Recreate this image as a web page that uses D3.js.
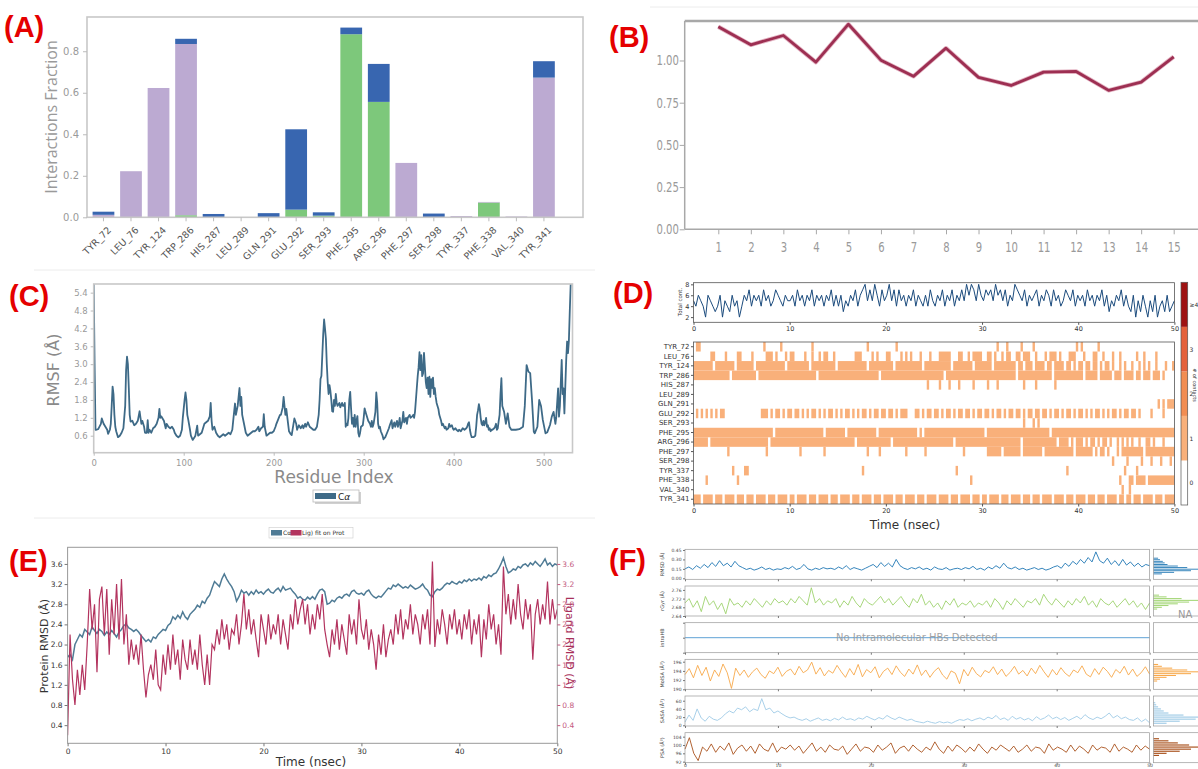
<!DOCTYPE html>
<html>
<head>
<meta charset="utf-8">
<script src="https://d3js.org/d3.v7.min.js"></script>
<style>
body { margin: 0; background: #fff; }
svg { display: block; font-family: "DejaVu Sans", sans-serif; }
.plab { font-family: "Liberation Sans", Arial, sans-serif; font-weight: bold; fill: #e50000; font-size: 29px; }
</style>
</head>
<body>
<svg id="fig" width="1198" height="769"></svg>
<script>
// ---------------- data ----------------
var residues = ["TYR_72","LEU_76","TYR_124","TRP_286","HIS_287","LEU_289","GLN_291","GLU_292","SER_293",
                "PHE_295","ARG_296","PHE_297","SER_298","TYR_337","PHE_338","VAL_340","TYR_341"];
// (A) interaction fractions
var hbond       = [0, 0, 0, 0.010, 0, 0, 0, 0.037, 0.008, 0.882, 0.556, 0, 0, 0, 0.071, 0, 0];
var hydrophobic = [0.012, 0.222, 0.623, 0.825, 0, 0, 0, 0, 0, 0, 0, 0.262, 0, 0.006, 0.003, 0.004, 0.673];
var waterBridge = [0.015, 0, 0, 0.025, 0.016, 0, 0.020, 0.387, 0.016, 0.032, 0.183, 0, 0.018, 0, 0, 0, 0.079];
var fracTicks = [0, 0.2, 0.4, 0.6, 0.8];

// (B)
var bFrames = [1,2,3,4,5,6,7,8,9,10,11,12,13,14,15];
var bValues = [1.20,1.093,1.148,0.99,1.215,1.002,0.906,1.073,0.90,0.852,0.931,0.935,0.823,0.872,1.022];
var bTicks = [0, 0.25, 0.5, 0.75, 1.0];

// (C) RMSF  [residue, value]
var rmsfPoints = [[0,5.7],[1,3.0],[2,0.8],[3,0.8],[5,0.82],[8,1.0],[9,1.18],[11,1.0],[13,0.9],[15,0.8],[16,0.66],[18,0.8],[19,1.0],[20,1.6],[21,2.25],[22,2.0],[23,1.3],[24,0.9],[25,0.75],[27,0.55],[29,0.6],[31,0.7],[33,0.85],[35,1.6],[36,2.8],[37,3.25],[38,3.0],[39,2.2],[40,1.3],[41,1.07],[43,1.1],[45,0.95],[47,1.0],[49,1.1],[51,1.42],[52,1.2],[53,1.0],[54,1.1],[56,0.9],[57,0.7],[59,0.7],[60,1.12],[61,0.7],[62,0.8],[64,0.7],[66,0.85],[68,0.9],[70,1.0],[72,1.2],[73,1.5],[74,1.2],[75,1.25],[77,1.15],[78,1.1],[80,0.85],[81,1.0],[83,0.9],[85,0.85],[87,0.9],[89,0.8],[90,0.7],[92,0.6],[94,0.55],[96,0.6],[98,0.8],[99,1.2],[101,1.8],[102,2.05],[103,1.8],[104,1.3],[105,1.15],[107,0.8],[108,0.6],[110,0.46],[112,0.55],[113,0.6],[115,0.94],[116,0.6],[118,0.65],[120,0.7],[122,0.9],[123,1.0],[125,1.05],[127,1.1],[129,1.25],[130,1.7],[131,1.1],[132,0.8],[134,0.9],[136,0.7],[138,0.6],[140,0.55],[142,0.6],[144,0.65],[146,0.6],[148,0.65],[150,0.7],[152,0.65],[154,0.8],[155,1.1],[157,1.68],[158,1.3],[160,1.6],[161,1.9],[162,2.2],[163,1.6],[164,1.9],[165,1.3],[167,1.0],[169,0.7],[171,0.6],[173,0.65],[175,0.7],[177,0.75],[179,0.75],[181,0.8],[183,0.9],[184,0.75],[186,0.85],[188,0.9],[189,1.32],[190,0.9],[192,0.6],[194,0.65],[196,0.7],[198,0.7],[200,0.75],[202,0.9],[203,1.0],[205,1.15],[207,1.3],[208,1.3],[210,1.55],[211,1.9],[212,1.6],[213,1.3],[214,1.5],[216,1.0],[217,0.75],[219,0.65],[220,0.62],[222,1.0],[223,1.18],[225,1.0],[226,0.8],[228,0.95],[230,0.85],[232,0.95],[233,0.85],[235,1.0],[236,0.9],[238,1.05],[240,0.9],[242,0.85],[244,0.8],[246,0.8],[248,0.9],[249,1.1],[250,1.3],[251,1.8],[252,2.5],[253,2.6],[254,3.3],[255,4.0],[256,4.5],[257,4.2],[258,3.85],[259,3.0],[260,2.4],[261,2.0],[262,2.3],[263,2.1],[264,1.8],[265,1.42],[266,1.4],[267,1.8],[268,1.6],[269,2.0],[270,1.7],[271,1.6],[273,1.7],[274,1.55],[276,1.7],[277,1.6],[278,1.6],[279,1.7],[280,0.9],[281,1.0],[282,0.95],[283,1.2],[284,1.8],[285,2.07],[286,1.5],[287,1.0],[288,1.2],[289,0.9],[290,1.3],[291,0.9],[292,1.1],[293,1.26],[294,0.7],[295,0.57],[296,0.7],[297,0.9],[299,0.95],[300,1.2],[301,1.52],[302,1.4],[303,1.3],[305,1.1],[307,1.0],[308,0.9],[309,1.1],[310,0.9],[311,1.0],[312,1.2],[313,1.4],[314,2.05],[315,1.7],[316,1.0],[317,0.85],[318,0.9],[319,0.75],[321,0.6],[322,0.48],[324,0.55],[326,0.7],[328,0.85],[329,0.95],[331,1.12],[332,0.85],[334,1.05],[335,0.9],[337,1.1],[338,0.9],[339,1.0],[340,1.2],[341,0.85],[343,1.1],[344,1.4],[345,1.05],[347,1.2],[348,1.0],[349,1.2],[351,1.3],[352,1.2],[354,1.25],[355,1.3],[356,1.2],[357,1.4],[358,1.8],[359,2.2],[360,2.6],[361,2.9],[362,3.4],[363,2.8],[364,3.3],[365,2.6],[366,2.7],[367,3.38],[368,2.9],[369,2.4],[370,2.2],[371,2.55],[372,2.0],[373,2.58],[374,1.9],[375,2.5],[376,2.2],[377,2.55],[378,2.0],[379,2.2],[380,1.9],[381,1.7],[382,1.6],[383,1.5],[384,1.3],[386,1.1],[387,0.95],[388,1.0],[390,0.85],[391,0.9],[392,0.8],[394,0.85],[395,1.0],[396,0.9],[398,0.95],[399,0.85],[400,0.8],[402,0.85],[403,0.8],[405,0.75],[406,0.8],[408,0.75],[410,0.85],[412,0.8],[414,0.85],[415,0.9],[416,1.0],[417,1.05],[418,0.8],[419,0.65],[420,0.55],[422,0.55],[424,0.6],[425,0.9],[426,1.3],[427,1.45],[428,1.66],[429,1.5],[430,1.2],[431,1.0],[432,0.95],[433,1.1],[434,0.95],[435,1.05],[436,1.2],[437,0.9],[438,0.95],[439,0.8],[440,0.85],[441,0.75],[442,0.8],[443,0.8],[445,0.85],[446,0.9],[447,1.0],[448,0.8],[449,0.85],[450,1.1],[451,1.3],[452,2.0],[453,2.53],[454,1.6],[456,1.4],[458,1.0],[460,1.35],[462,0.9],[464,0.8],[469,0.8],[473,0.82],[477,0.9],[479,1.6],[481,2.97],[483,2.75],[485,2.7],[487,1.8],[489,0.73],[490,0.68],[493,0.9],[495,1.8],[497,1.6],[499,1.13],[502,0.68],[504,0.72],[507,0.96],[509,1.24],[511,1.4],[513,1.0],[514,1.24],[516,2.19],[517,1.24],[518,1.6],[520,3.14],[521,2.0],[522,2.19],[523,1.35],[525,3.14],[526,3.76],[527,3.37],[528,3.8],[529,4.8],[530,5.7]];
var rmsfTicks = [0.6,1.2,1.8,2.4,3.0,3.6,4.2,4.8,5.4];
var residueTicks = [0,100,200,300,400,500];

// (D) total contacts per frame (0.25 ns) and contact map (one string per residue, 0.25 ns bins)
var totalContacts = ("54654265434625436452" + "46574656475645765465" + "56475646574656465746" + "46354657467857586475" +
                     "68574756465746546475" + "46574657465758687586" + "57675867574658765746" + "56746576475645765746" +
                     "56475646574635465746" + "43625364253624536345").split("").map(Number);
var contactMap = [
  ["011","00000000010000001","0000000001","0000000000001","00001","","00000010001000001","01000000000000000001","010000001",""],
  ["00000001100001000011","00001000001110100010","11000010010010110010","00000001110000101000","11000010101000100010","00111110001100101111","00110100101100110111","00100010111010001110","00100011001000100100","00001001000010000000"],
  ["11111111011111111011","11111011111111111101","11111111011111111110","11111111111101111111","11101111111111101111","11111110111111110111","11110111111111011011","10111101101111011010","11011011010110100101","00100101010010001001"],
  ["11111111111111101111","11111101111111111111","11111111111011111111","11111111111111111011","11111111111111111111","11110111111111111111","11111111111111011111","11111111101111111111","11011111011111011101","11101101110111010000"],
  ["","","","","000000000000000001","00100010001000001","001000100000000001","00100000001","",""],
  ["","","","","","","","","",""],
  ["","","","","","","","","","00000000000001010111"],
  ["0101010101011","00000000111010110101","10110101011010101101","01011010101101011011","01101011100011010110","11010110101101101011","01101011010110110101","10110110101101011010","11010101101010110101","10110100001000010000"],
  ["","","","","","","000000000000000001","0101","",""],
  ["11111111111111111111","11111111111110111111","11111111111111011111","11101111111111110111","11111111111110101111","11111111111111111111","10111111111111111111","11111111011111111111","11111111111111111111","11111111111111111111"],
  ["11111101111111111111","11111111111011111111","11111111111111111111","11111110111111111111","11011111111111111111","11111111011111111111","11111111111111110111","11111111111011110101","11010110101101001010","10100100110100010000"],
  ["000000000000001","0000000000100","000010000000001","0000000000001000010","000000001000000010","0000000000001","00111111011111110111","11111011111111111101","11111101011010001011","11111110111111111111"],
  ["","","","","","","","","000000000000001","10000010001000100010"],
  ["00000000000000001","011","","00000000001","","0000000001","","0000000000000001","00000000000000000001","00001"],
  ["0000010000000000001","","","","","0000000000000001","","","000000000000000001","01101111011111111111"],
  ["","","","","","","","","0000000000000000001","01"],
  ["11101111011101111011","10111011110111011110","11011110111011110111","01111011101111011101","11101110111101110111","10111101110111101110","11011110111011110111","01110111101111011101","11101110111011110110","11011101111011101111"]
];
var contactLevels = ["0","1","2","3","\u22654"];
var contactColors = ["#ffffff","#f9b07a","#f28d52","#e4613b","#9e1212"];
var timeTicks = [0,10,20,30,40,50];

// (E) RMSD, one value every 0.25 ns
var protRmsd = [1.75,1.8,1.7,2.0,2.1,2.2,2.15,2.3,2.25,2.2,2.35,2.28,2.22,2.3,2.26,2.18,2.25,2.2,2.28,2.22,
 2.15,2.25,2.3,2.38,2.4,2.33,2.3,2.26,2.3,2.25,2.18,2.12,2.06,2.1,2.05,2.15,2.12,2.2,2.25,2.3,
 2.28,2.38,2.42,2.55,2.5,2.58,2.52,2.65,2.55,2.5,2.6,2.65,2.7,2.78,2.74,2.86,2.82,2.92,2.98,3.12,
 3.25,3.2,3.15,3.3,3.4,3.3,3.22,3.15,3.05,2.86,2.95,3.08,3.02,3.05,2.98,3.05,3.0,3.08,3.02,3.05,
 3.0,3.06,3.1,3.04,3.02,3.08,3.12,3.05,3.15,3.08,3.1,3.12,3.05,3.0,2.92,2.95,2.9,2.88,2.94,2.9,
 2.95,2.9,3.0,3.08,3.1,3.05,2.8,2.82,2.88,2.85,2.92,2.95,2.92,2.98,3.0,2.96,3.05,3.08,3.02,3.0,
 3.02,2.98,3.05,3.08,3.0,2.95,2.92,2.96,2.94,3.0,3.06,3.12,3.1,3.18,3.15,3.2,3.16,3.12,3.15,3.12,
 3.18,3.14,3.1,3.12,3.15,3.2,3.12,3.08,2.98,2.95,3.05,3.1,3.08,3.12,3.18,3.22,3.2,3.25,3.22,3.2,
 3.25,3.22,3.28,3.25,3.3,3.26,3.3,3.28,3.32,3.28,3.35,3.32,3.38,3.35,3.4,3.42,3.5,3.6,3.72,3.55,
 3.42,3.45,3.5,3.48,3.55,3.52,3.58,3.6,3.55,3.62,3.58,3.65,3.6,3.55,3.62,3.7,3.58,3.62,3.55,3.6,3.58];
var ligRmsd = [0.2,2.2,1.3,0.8,1.5,1.0,1.6,1.1,2.0,3.1,2.3,2.8,1.45,2.9,3.15,2.2,3.1,1.8,2.9,2.2,
 3.2,2.1,3.3,2.0,2.6,1.6,2.1,1.7,2.0,1.6,2.2,1.5,0.95,1.4,1.6,1.3,1.9,1.2,1.1,1.8,
 1.4,2.0,1.5,2.2,1.6,1.9,1.3,2.1,1.7,1.5,2.1,1.6,1.9,1.5,2.2,1.6,1.2,1.8,1.2,2.0,
 1.9,2.3,2.0,2.5,2.1,2.4,1.9,2.3,2.2,2.6,2.0,2.4,3.0,2.3,2.7,2.2,2.5,2.1,1.75,2.6,
 2.3,2.0,2.6,2.1,2.4,2.2,2.6,2.0,2.5,2.2,1.9,2.6,2.3,2.9,2.4,2.7,2.9,2.4,2.8,2.2,
 2.6,2.3,2.8,2.5,3.0,2.3,2.0,1.75,2.3,2.0,2.5,1.9,2.4,2.1,1.8,2.6,2.2,2.5,2.0,2.9,
 2.3,2.1,2.5,1.9,2.3,2.0,1.5,2.2,1.8,2.4,1.75,2.1,2.3,2.0,2.6,2.2,2.7,2.1,2.5,2.3,
 2.8,2.2,2.6,2.4,2.0,2.6,2.3,2.7,2.0,3.65,1.95,2.5,2.2,2.7,2.4,2.0,2.6,2.3,2.7,2.2,
 2.5,2.1,2.6,2.3,2.7,2.0,2.5,2.2,2.6,1.75,2.5,2.1,2.8,2.3,2.6,2.0,2.4,1.8,3.55,2.6,
 3.0,2.4,2.9,2.5,3.2,2.6,2.3,2.9,2.5,2.8,1.7,2.6,2.9,2.4,2.8,2.5,3.25,2.4,2.9,2.5,2.7];
var rmsdTicks = [0.4,0.8,1.2,1.6,2.0,2.4,2.8,3.2,3.6];

// (F) ligand properties
var fRmsd = [.15,.18,.14,.2,.16,.22,.17,.25,.19,.28,.2,.24,.18,.27,.2,.17,.14,.16,.13,.15,.18,.14,.16,.13,.15,
 .14,.17,.15,.19,.14,.16,.22,.15,.13,.16,.14,.17,.15,.16,.14,.18,.15,.2,.14,.17,.15,.13,.16,.19,
 .22,.17,.25,.19,.24,.18,.3,.2,.16,.14,.17,.15,.18,.14,.16,.13,.18,.15,.14,.17,.13,.15,.16,.14,
 .17,.15,.19,.14,.16,.13,.18,.15,.2,.16,.24,.17,.15,.18,.14,.16,.13,.15,.17,.14,.16,.13,.15,.18,
 .2,.16,.24,.19,.27,.22,.3,.24,.33,.26,.42,.28,.24,.32,.22,.28,.2,.3,.21,.26,.19,.24,.18,.22,.2];
var fGyr = [2.70,2.72,2.68,2.71,2.66,2.73,2.69,2.71,2.67,2.7,2.65,2.72,2.69,2.7,2.68,2.71,2.69,2.72,2.7,2.68,2.71,2.69,2.72,2.7,2.71,
 2.69,2.72,2.7,2.73,2.71,2.69,2.77,2.7,2.72,2.69,2.71,2.7,2.72,2.68,2.71,2.69,2.73,2.7,2.68,2.72,2.7,2.69,2.71,2.73,
 2.7,2.72,2.69,2.71,2.73,2.7,2.68,2.72,2.7,2.74,2.69,2.71,2.68,2.7,2.67,2.71,2.69,2.72,2.68,2.7,2.69,2.71,2.68,2.7,
 2.69,2.71,2.68,2.72,2.7,2.67,2.71,2.69,2.72,2.7,2.68,2.71,2.7,2.72,2.69,2.74,2.71,2.69,2.72,2.7,2.68,2.71,2.69,2.72,
 2.7,2.73,2.69,2.71,2.68,2.72,2.7,2.69,2.71,2.68,2.7,2.72,2.69,2.71,2.68,2.7,2.67,2.7];
var fMolsa = [193.2,194.5,192.5,195.2,193,194.8,191.8,194.2,192.8,195.5,193.6,190.2,194.6,193,194.2,192.6,193.8,194.6,193.2,192.4,194,193.4,194.8,192.8,193.9,
 194.4,193.1,195,193.6,194.2,195.9,193.3,194.7,192.9,194.1,193.5,195.2,193.8,192.6,194.5,193.1,195.4,192.7,194.3,193.6,194.9,192.5,193.9,
 194.6,193.2,195.1,193.7,192.8,194.4,193.3,195.3,193,194.2,192.6,193.9,194.7,193.1,192.2,194,193.5,191.2,194.3,192.9,194.8,193.4,
 192.7,194.1,193.6,194.9,193.2,194.4,192.8,193.7,195,193.3,194.1,192.9,194.6,193.4,195.2,193.8,192.6,194.3,193.1,194.7,193.5,
 192.8,194.2,193.6,195.1,193.3,192.7,194.5,193.2,194.8,193.9,192.6,194.3,193.5,195,193.1,194.4,192.8,193.6,194.9,193.3];
var fSasa = [8,25,12,40,18,10,22,15,12,18,28,35,30,42,38,45,33,40,36,65,38,42,30,35,
 28,22,18,20,15,12,16,10,14,18,12,15,11,17,13,20,14,16,12,18,15,22,17,13,
 19,15,24,18,14,20,16,12,15,10,8,6,10,7,5,9,6,8,5,10,14,12,16,11,15,18,
 13,20,16,24,14,18,12,22,15,19,13,17,11,21,14,18,25,16,20,14,19,12,17,
 22,15,26,18,14,20,16,22,30,18,24,16,20,14,12,18,9,15,6];
var fPsa = [98,103.5,96,92.5,99,97,100.5,96.5,99.5,97.5,101,95.5,98.5,100,97,99.5,96,100.5,98,97,101,96.5,99,98,100,
 97.5,99.5,96,98.5,101,97,99,96.5,100,98,97.5,99.5,95.5,98,100.5,97,99,98.5,96.5,100,97.5,99,101,96,98.5,
 99.5,97,100,98,96.5,99,97.5,101.5,98,96,99.5,97,100,98.5,96.5,99,97,100.5,98,96,99,97.5,100,98.5,97,
 99.5,96.5,98,100,97,99,98.5,96,100.5,97.5,99,98,96.5,100,97,99.5,98,96,100,97.5,99,98.5,96.5,100.5,
 97,99,98,96.5,100,97.5,99.5,98];
// histograms: bin centres and counts
var hRmsdBins = [0.07,0.095,0.12,0.145,0.17,0.195,0.22,0.245,0.27,0.295,0.32];
var hRmsdCounts = [9,22,40,55,36,26,15,12,10,7,5];
var hGyrBins = [2.672,2.680,2.688,2.696,2.704,2.712,2.720,2.728,2.736];
var hGyrCounts = [4,9,16,26,38,50,30,14,6];
var hMolsaBins = [191.8,192.2,192.6,193.0,193.4,193.8,194.2,194.6,195.0,195.4];
var hMolsaCounts = [4,7,14,24,40,52,36,20,9,5];
var hSasaBins = [5,10,15,20,25,30,35,40,45,50,55];
var hSasaCounts = [14,28,45,52,32,16,11,8,5,3,2];
var hPsaBins = [95,96,97,98,99,100,101,102,103];
var hPsaCounts = [6,14,28,40,52,38,26,16,6];

// ---------------- drawing ----------------
var fig = d3.select("#fig");
fig.append("rect").attr("width", 1198).attr("height", 769).attr("fill", "#fff");

function styleAxis(g, lineCol, textCol, size) {
  g.select(".domain").remove();
  g.selectAll(".tick line").attr("stroke", lineCol);
  g.selectAll(".tick text").attr("fill", textCol).style("font-size", size + "px")
    .style("font-family", "'DejaVu Sans', sans-serif");
}

// faint separators
[[34, 595, 270], [34, 595, 518], [650, 1198, 7]].forEach(function(s) {
  fig.append("line").attr("x1", s[0]).attr("x2", s[1]).attr("y1", s[2]).attr("y2", s[2])
    .attr("stroke", "#ececec").attr("stroke-width", 1);
});

// ===== (A) =====
var gA = fig.append("g");
var ax = d3.scaleBand().domain(residues).range([89.7, 557.7]).paddingInner(0.21).paddingOuter(0.105);
var ay = d3.scaleLinear().domain([0, 0.965]).range([217.3, 17]);
var stackRows = residues.map(function(r, i) {
  return { res: r, hbond: hbond[i], hydrophobic: hydrophobic[i], water: waterBridge[i] };
});
var series = d3.stack().keys(["hbond", "hydrophobic", "water"])(stackRows);
var colA = { hbond: "#7dc87b", hydrophobic: "#bcaad2", water: "#3866b0" };
gA.selectAll("g.s").data(series).enter().append("g").attr("fill", function(d) { return colA[d.key]; })
  .selectAll("rect").data(function(d) { return d; }).enter().append("rect")
  .attr("x", function(d) { return ax(d.data.res); })
  .attr("width", ax.bandwidth())
  .attr("y", function(d) { return ay(d[1]); })
  .attr("height", function(d) { return Math.max(0, ay(d[0]) - ay(d[1])); });
gA.append("rect").attr("x", 87).attr("y", 17).attr("width", 496).attr("height", 200.3)
  .attr("fill", "none").attr("stroke", "#c8c8c8").attr("stroke-width", 1.6);
gA.append("g").attr("transform", "translate(87,0)")
  .call(d3.axisLeft(ay).tickValues(fracTicks).tickFormat(d3.format(".1f")).tickSize(4).tickPadding(4))
  .call(function(g) { styleAxis(g, "#bbb", "#9a9a9a", 10); });
gA.append("g").attr("transform", "translate(0,217.3)")
  .call(d3.axisBottom(ax).tickSize(4))
  .call(function(g) {
    styleAxis(g, "#bbb", "#555", 9.5);
    g.selectAll(".tick text").attr("y", 0).attr("dy", "0.35em").attr("text-anchor", "end")
      .attr("transform", "translate(6,11) rotate(-45)");
  });
gA.append("text").attr("transform", "translate(51,117) rotate(-90)").attr("text-anchor", "middle")
  .attr("dominant-baseline", "central").style("font-family", "'Open Sans', sans-serif")
  .style("font-size", "16px").attr("fill", "#9a9a9a").text("Interactions Fraction");
fig.append("text").attr("class", "plab").attr("x", 4).attr("y", 37).text("(A)");

// ===== (B) =====
var gB = fig.append("g");
var bx = d3.scaleLinear().domain([1, 15]).range([718.3, 1173.7]);
var by = d3.scaleLinear().domain([0, 1.234]).range([229.3, 21]);
gB.append("line").attr("x1", 684.7).attr("x2", 1198).attr("y1", 21).attr("y2", 21).attr("stroke", "#a8a8a8").attr("stroke-width", 2.5);
gB.append("line").attr("x1", 684.7).attr("x2", 684.7).attr("y1", 21).attr("y2", 229.3).attr("stroke", "#a8a8a8").attr("stroke-width", 1.5);
gB.append("line").attr("x1", 684.7).attr("x2", 1198).attr("y1", 229.3).attr("y2", 229.3).attr("stroke", "#a8a8a8").attr("stroke-width", 1.5);
gB.append("g").attr("transform", "translate(684.7,0)")
  .call(d3.axisLeft(by).tickValues(bTicks).tickFormat(d3.format(".2f")).tickSize(5).tickPadding(3))
  .call(function(g) { styleAxis(g, "#a8a8a8", "#9a9a9a", 14); g.selectAll(".tick text").attr("transform", "scale(0.72,1)"); });
gB.append("g").attr("transform", "translate(0,229.3)")
  .call(d3.axisBottom(bx).tickValues(bFrames).tickFormat(d3.format("d")).tickSize(5))
  .call(function(g) { styleAxis(g, "#a8a8a8", "#9a9a9a", 14); g.selectAll(".tick text").attr("y", 13).attr("transform", "scale(0.72,1)"); });
var bLine = d3.line().x(function(d, i) { return bx(bFrames[i]); }).y(function(d) { return by(d); });
gB.append("path").datum(bValues).attr("d", bLine)
  .attr("fill", "none").attr("stroke", "#e3b3c2").attr("stroke-width", 4.4).attr("stroke-linejoin", "round");
gB.append("path").datum(bValues).attr("d", bLine)
  .attr("fill", "none").attr("stroke", "#9d2f52").attr("stroke-width", 2.8).attr("stroke-linejoin", "round");
fig.append("text").attr("class", "plab").attr("x", 609).attr("y", 47).text("(B)");

// ===== (C) =====
var gC = fig.append("g");
var cx = d3.scaleLinear().domain([0, 532]).range([93.7, 572.5]);
var cy = d3.scaleLinear().domain([0.03, 5.69]).range([452.7, 284]);
fig.append("clipPath").attr("id", "clipC").append("rect").attr("x", 93.7).attr("y", 284).attr("width", 478.8).attr("height", 168.7);
gC.append("path").datum(rmsfPoints).attr("clip-path", "url(#clipC)")
  .attr("d", d3.line().x(function(d) { return cx(d[0]); }).y(function(d) { return cy(d[1]); }))
  .attr("fill", "none").attr("stroke", "#3e6a87").attr("stroke-width", 1.8).attr("stroke-linejoin", "round");
gC.append("rect").attr("x", 93.7).attr("y", 284).attr("width", 478.8).attr("height", 168.7)
  .attr("fill", "none").attr("stroke", "#c8c8c8").attr("stroke-width", 1.6);
gC.append("g").attr("transform", "translate(93.7,0)")
  .call(d3.axisLeft(cy).tickValues(rmsfTicks).tickFormat(d3.format(".1f")).tickSize(3).tickPadding(3))
  .call(function(g) { styleAxis(g, "#bbb", "#9a9a9a", 8.5); });
gC.append("g").attr("transform", "translate(0,452.7)")
  .call(d3.axisBottom(cx).tickValues(residueTicks).tickFormat(d3.format("d")).tickSize(3).tickPadding(4))
  .call(function(g) { styleAxis(g, "#bbb", "#9a9a9a", 8.5); });
gC.append("text").attr("x", 334).attr("y", 483).attr("text-anchor", "middle")
  .style("font-size", "17px").attr("fill", "#8a8a8a").text("Residue Index");
gC.append("text").attr("transform", "translate(53,370) rotate(-90)").attr("text-anchor", "middle")
  .attr("dominant-baseline", "central").style("font-size", "16px").attr("fill", "#8a8a8a").text("RMSF (\u00c5)");
gC.append("rect").attr("x", 315).attr("y", 492).attr("width", 46).attr("height", 12).attr("fill", "#d0d0d0");
gC.append("rect").attr("x", 313).attr("y", 490).attr("width", 46).attr("height", 12).attr("fill", "#fff").attr("stroke", "#bbb").attr("stroke-width", 0.8);
gC.append("rect").attr("x", 315).attr("y", 493).attr("width", 21).attr("height", 6).attr("fill", "#3e6a87");
gC.append("text").attr("x", 338).attr("y", 499.5).style("font-size", "9px").attr("fill", "#222")
  .html("C<tspan font-style='italic'>\u03b1</tspan>");
fig.append("text").attr("class", "plab").attr("x", 9).attr("y", 306).text("(C)");

// ===== (D) =====
var gD = fig.append("g");
var dx = d3.scaleLinear().domain([0, 50]).range([693.5, 1174.4]);
var dyTop = d3.scaleLinear().domain([1.05, 8.3]).range([322.3, 282.7]);
gD.append("path").datum(totalContacts)
  .attr("d", d3.line().x(function(d, i) { return dx(i * 50 / (totalContacts.length - 1)); }).y(function(d) { return dyTop(d); }))
  .attr("fill", "none").attr("stroke", "#1b4b7d").attr("stroke-width", 1);
gD.append("rect").attr("x", 693.5).attr("y", 282.7).attr("width", 480.9).attr("height", 39.6)
  .attr("fill", "none").attr("stroke", "#555").attr("stroke-width", 0.8);
gD.append("g").attr("transform", "translate(693.5,0)")
  .call(d3.axisLeft(dyTop).tickValues([2, 4, 6, 8]).tickFormat(d3.format("d")).tickSize(2.5).tickPadding(1.5))
  .call(function(g) { styleAxis(g, "#555", "#333", 6.5); });
gD.append("g").attr("transform", "translate(0,322.3)")
  .call(d3.axisBottom(dx).tickValues(timeTicks).tickFormat(d3.format("d")).tickSize(2.5).tickPadding(2))
  .call(function(g) { styleAxis(g, "#555", "#333", 6.5); });
gD.append("text").attr("transform", "translate(680,302) rotate(-90)").attr("text-anchor", "middle")
  .attr("dominant-baseline", "central").style("font-size", "5.5px").attr("fill", "#333").text("Total cont.");

var dRow = d3.scaleBand().domain(residues).range([342, 504]);
var runs = [];
contactMap.forEach(function(segs, r) {
  var s = segs.map(function(x) { return (x + "00000000000000000000").slice(0, 20); }).join("");
  var start = -1;
  for (var i = 0; i <= s.length; i++) {
    var on = i < s.length && s[i] !== "0";
    if (on && start < 0) start = i;
    if (!on && start >= 0) { runs.push({ row: residues[r], a: start, b: i }); start = -1; }
  }
});
gD.selectAll("rect.cell").data(runs).enter().append("rect").attr("class", "cell")
  .attr("x", function(d) { return dx(d.a * 0.25); })
  .attr("width", function(d) { return dx(d.b * 0.25) - dx(d.a * 0.25); })
  .attr("y", function(d) { return dRow(d.row); })
  .attr("height", dRow.bandwidth())
  .attr("fill", contactColors[1]);
gD.append("rect").attr("x", 693.5).attr("y", 342).attr("width", 480.9).attr("height", 162)
  .attr("fill", "none").attr("stroke", "#555").attr("stroke-width", 0.8);
gD.append("g").attr("transform", "translate(693.5,0)")
  .call(d3.axisLeft(dRow).tickSize(2.5).tickPadding(1.5))
  .call(function(g) { styleAxis(g, "#555", "#333", 7); });
gD.append("g").attr("transform", "translate(0,504)")
  .call(d3.axisBottom(dx).tickValues(timeTicks).tickFormat(d3.format("d")).tickSize(2.5).tickPadding(2))
  .call(function(g) { styleAxis(g, "#555", "#333", 6.5); });
gD.append("text").attr("x", 905).attr("y", 529).attr("text-anchor", "middle")
  .style("font-size", "12px").attr("fill", "#333").text("Time (nsec)");
// colour bar
var cbY = d3.scaleLinear().domain([0, 5]).range([505, 282.3]);
gD.selectAll("rect.cb").data(contactLevels).enter().append("rect").attr("class", "cb")
  .attr("x", 1181).attr("width", 6.7)
  .attr("y", function(d, i) { return cbY(i + 1); })
  .attr("height", function(d, i) { return cbY(i) - cbY(i + 1); })
  .attr("fill", function(d, i) { return contactColors[i]; });
gD.append("rect").attr("x", 1181).attr("y", 282.3).attr("width", 6.7).attr("height", 222.7)
  .attr("fill", "none").attr("stroke", "#555").attr("stroke-width", 0.7);
gD.selectAll("text.cbl").data(contactLevels).enter().append("text").attr("class", "cbl")
  .attr("x", 1189.5).attr("y", function(d, i) { return cbY(i + 0.5); }).attr("dominant-baseline", "central")
  .style("font-size", "6px").attr("fill", "#333").text(function(d) { return d; });
gD.append("text").attr("transform", "translate(1194.5,385) rotate(90)").attr("text-anchor", "middle")
  .attr("dominant-baseline", "central").style("font-size", "5px").attr("fill", "#333").text("# of contacts");
fig.append("text").attr("class", "plab").attr("x", 613).attr("y", 303).text("(D)");

// ===== (E) =====
var gE = fig.append("g");
var ex = d3.scaleLinear().domain([0, 50]).range([67.6, 557.3]);
var ey = d3.scaleLinear().domain([0.04, 3.93]).range([743.3, 547.3]);
fig.append("clipPath").attr("id", "clipE").append("rect").attr("x", 67.6).attr("y", 547.3).attr("width", 489.7).attr("height", 196);
gE.append("path").datum(protRmsd).attr("clip-path", "url(#clipE)")
  .attr("d", d3.line().x(function(d, i) { return ex(i * 50 / (protRmsd.length - 1)); }).y(function(d) { return ey(d); }))
  .attr("fill", "none").attr("stroke", "#4f7b95").attr("stroke-width", 1.5);
gE.append("path").datum(ligRmsd).attr("clip-path", "url(#clipE)")
  .attr("d", d3.line().x(function(d, i) { return ex(i * 50 / (ligRmsd.length - 1)); }).y(function(d) { return ey(d); }))
  .attr("fill", "none").attr("stroke", "#b3345f").attr("stroke-width", 1.2);
gE.append("rect").attr("x", 67.6).attr("y", 547.3).attr("width", 489.7).attr("height", 196)
  .attr("fill", "none").attr("stroke", "#999").attr("stroke-width", 1);
gE.append("g").attr("transform", "translate(67.6,0)")
  .call(d3.axisLeft(ey).tickValues(rmsdTicks).tickFormat(d3.format(".1f")).tickSize(3).tickPadding(2))
  .call(function(g) { styleAxis(g, "#777", "#333", 7.5); });
gE.append("g").attr("transform", "translate(557.3,0)")
  .call(d3.axisRight(ey).tickValues(rmsdTicks).tickFormat(d3.format(".1f")).tickSize(3).tickPadding(2))
  .call(function(g) { styleAxis(g, "#c45a80", "#c45a80", 7.5); });
gE.append("g").attr("transform", "translate(0,743.3)")
  .call(d3.axisBottom(ex).tickValues(timeTicks).tickFormat(d3.format("d")).tickSize(3).tickPadding(2))
  .call(function(g) { styleAxis(g, "#777", "#333", 7.5); });
gE.append("text").attr("x", 311).attr("y", 766).attr("text-anchor", "middle")
  .style("font-size", "12px").attr("fill", "#333").text("Time (nsec)");
gE.append("text").attr("transform", "translate(44,646) rotate(-90)").attr("text-anchor", "middle")
  .attr("dominant-baseline", "central").style("font-size", "11px").attr("fill", "#333").text("Protein RMSD (\u00c5)");
gE.append("text").attr("transform", "translate(569,643) rotate(90)").attr("text-anchor", "middle")
  .attr("dominant-baseline", "central").style("font-size", "11px").attr("fill", "#a8305a").text("Ligand RMSD (\u00c5)");
// legend
gE.append("rect").attr("x", 269).attr("y", 527.5).attr("width", 84).attr("height", 10.5).attr("fill", "#fff").attr("stroke", "#ccc").attr("stroke-width", 0.6);
gE.append("rect").attr("x", 271).attr("y", 530).attr("width", 11).attr("height", 5.5).attr("fill", "#4f7b95");
gE.append("text").attr("x", 283).attr("y", 535.3).style("font-size", "6px").attr("fill", "#333").text("C\u03b1");
gE.append("rect").attr("x", 290.5).attr("y", 530).attr("width", 11).attr("height", 5.5).attr("fill", "#b3345f");
gE.append("text").attr("x", 302).attr("y", 535.3).style("font-size", "6px").attr("fill", "#333").text("Lig) fit on Prot");
fig.append("text").attr("class", "plab").attr("x", 9).attr("y", 571).text("(E)");

// ===== (F) =====
var gF = fig.append("g");
var fx = d3.scaleLinear().domain([0, 50]).range([685, 1149.6]);
var hx = d3.scaleLinear().domain([0, 50]).range([0, 47]);
var fTops = [549.3, 586, 622.7, 659.3, 696, 732.7];
var fPanels = [
  { name: "RMSD (\u00c5)", data: fRmsd, dom: [-0.016, 0.461], ticks: [0, 0.15, 0.30, 0.45], fmt: ".2f", col: "#1f77b4", bins: hRmsdBins, counts: hRmsdCounts, w: 0.025 },
  { name: "rGyr (\u00c5)", data: fGyr, dom: [2.64, 2.778], ticks: [2.64, 2.68, 2.72, 2.76], fmt: ".2f", col: "#9ed36e", bins: hGyrBins, counts: hGyrCounts, w: 0.008 },
  { name: "intraHB", data: null, dom: [-1, 1], ticks: [-1, 0, 1], fmt: "", col: "#5fa2d6" },
  { name: "MolSA (\u00c5\u00b2)", data: fMolsa, dom: [190, 196.52], ticks: [190, 192, 194, 196], fmt: "d", col: "#f7a84a", bins: hMolsaBins, counts: hMolsaCounts, w: 0.4 },
  { name: "SASA (\u00c5\u00b2)", data: fSasa, dom: [-1.7, 71.5], ticks: [0, 20, 40, 60], fmt: "d", col: "#9fcbe6", bins: hSasaBins, counts: hSasaCounts, w: 5 },
  { name: "PSA (\u00c5\u00b2)", data: fPsa, dom: [91.5, 105.9], ticks: [92, 96, 100, 104], fmt: "d", col: "#a9511c", bins: hPsaBins, counts: hPsaCounts, w: 1 }
];
fPanels.forEach(function(p, k) {
  var top = fTops[k], bot = top + 30;
  var y = d3.scaleLinear().domain(p.dom).range([bot, top]);
  var g = gF.append("g");
  if (p.data) {
    g.append("path").datum(p.data)
      .attr("d", d3.line().x(function(d, i) { return fx(i * 50 / (p.data.length - 1)); }).y(function(d) { return y(d); }))
      .attr("fill", "none").attr("stroke", p.col).attr("stroke-width", 0.9);
    g.selectAll("rect.h").data(p.bins).enter().append("rect")
      .attr("x", 1153.4)
      .attr("y", function(d) { return y(d + p.w * 0.28); })
      .attr("height", function(d) { return y(d - p.w * 0.28) - y(d + p.w * 0.28); })
      .attr("width", function(d, i) { return hx(p.counts[i]); })
      .attr("fill", p.col);
  } else {
    g.append("line").attr("x1", 685).attr("x2", 1149.6).attr("y1", y(0)).attr("y2", y(0))
      .attr("stroke", p.col).attr("stroke-width", 1);
    g.append("text").attr("x", 916.8).attr("y", y(0)).attr("text-anchor", "middle").attr("dominant-baseline", "central")
      .style("font-size", "10px").attr("fill", "#999").attr("opacity", 0.9).text("No Intramolecular HBs Detected");
    g.append("text").attr("x", 1178).attr("y", top - 8).attr("dominant-baseline", "central")
      .style("font-size", "10px").attr("fill", "#999").text("NA");
  }
  g.append("rect").attr("x", 685).attr("y", top).attr("width", 464.6).attr("height", 30)
    .attr("fill", "none").attr("stroke", "#999").attr("stroke-width", 0.7);
  g.append("rect").attr("x", 1153.4).attr("y", top).attr("width", 80).attr("height", 30)
    .attr("fill", "none").attr("stroke", "#999").attr("stroke-width", 0.7);
  g.append("g").attr("transform", "translate(685,0)")
    .call(d3.axisLeft(y).tickValues(p.ticks).tickFormat(p.fmt ? d3.format(p.fmt) : function() { return ""; }).tickSize(2).tickPadding(1.5))
    .call(function(a) { styleAxis(a, "#777", "#444", 4.5); });
  g.append("g").attr("transform", "translate(0," + bot + ")")
    .call(d3.axisBottom(fx).tickValues(timeTicks).tickFormat(function() { return ""; }).tickSize(2))
    .call(function(a) { styleAxis(a, "#777", "#444", 4.5); });
  g.append("text").attr("transform", "translate(662," + (top + 15) + ") rotate(-90)").attr("text-anchor", "middle")
    .attr("dominant-baseline", "central").style("font-size", "5px").attr("fill", "#444").text(p.name);
});
gF.append("g").attr("transform", "translate(0,762.7)")
  .call(d3.axisBottom(fx).tickValues(timeTicks).tickFormat(d3.format("d")).tickSize(0).tickPadding(1))
  .call(function(a) { styleAxis(a, "#777", "#444", 4.5); });
fig.append("text").attr("class", "plab").attr("x", 609).attr("y", 570).text("(F)");
</script>
</body>
</html>
